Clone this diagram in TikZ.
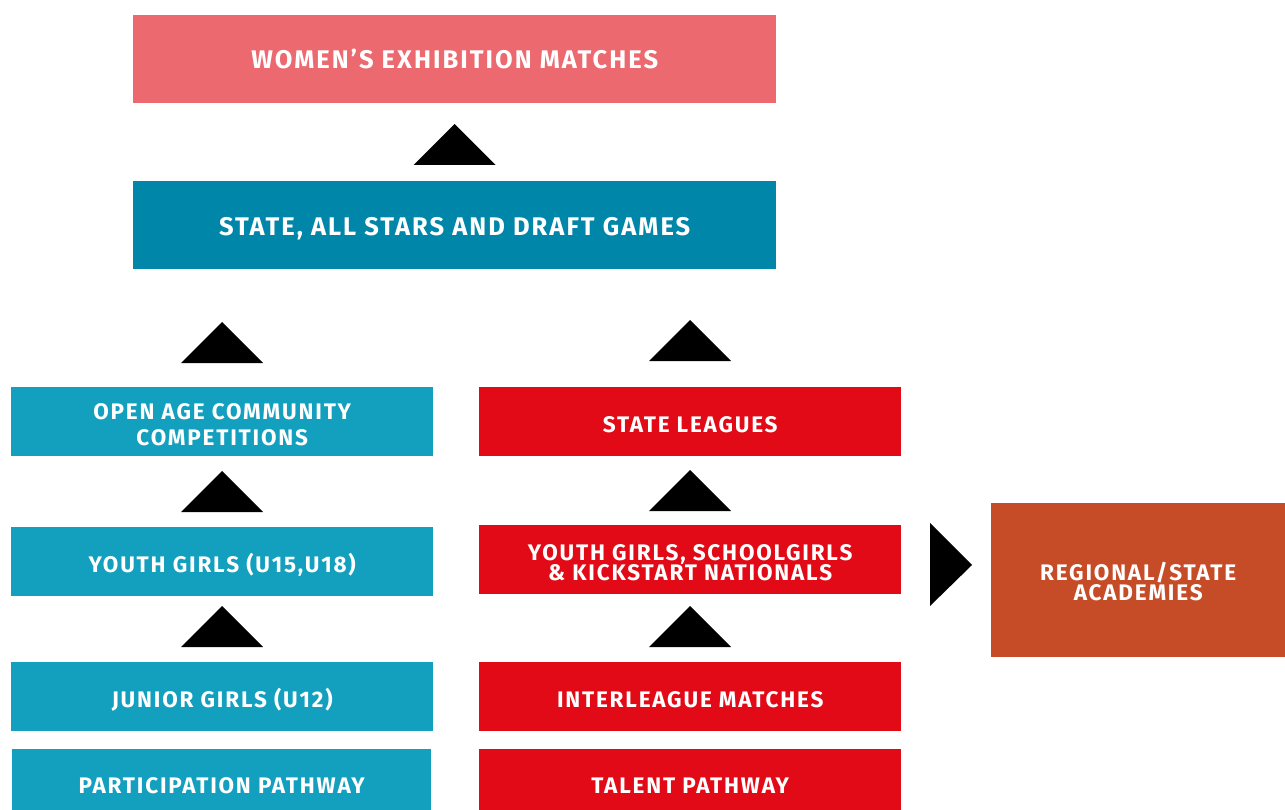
\documentclass[tikz,border=0pt]{standalone}
\usepackage{fontspec}
\setmainfont{Fira Sans}
\newfontfamily\boxfont[LetterSpace=8]{Fira Sans}
\usepackage{tikz}

\definecolor{exhib}{HTML}{EC6A6F}
\definecolor{stars}{HTML}{0086A8}
\definecolor{partic}{HTML}{139FBE}
\definecolor{talent}{HTML}{E20A16}
\definecolor{academy}{HTML}{C64B27}

\tikzset{
  level/.style={anchor=north west, rectangle, inner sep=0pt,
    minimum width=422pt, minimum height=69pt},
  wide/.style={level, minimum width=643pt, minimum height=88pt},
  captext/.style={text=white, align=center, inner sep=0pt,
    font=\boxfont\bfseries\fontsize{22.5}{21}\selectfont},
  widetext/.style={captext, font=\boxfont\bfseries\fontsize{25.5}{26}\selectfont},
  caption/.style={label={[captext, yshift=-3pt]center:#1}},
}

% up triangle with its base centred on the given point
\newcommand{\uptri}[1]{\fill #1 ++(-41,0) -- ++(82,0) -- ++(-41,-41) -- cycle;}

\begin{document}
\begin{tikzpicture}[x=1pt, y=-1pt]

\useasboundingbox (0,0) rectangle (1285,810);

%\draw (0,0) grid (1285,810);

\node [wide, fill=exhib, label={[widetext]center:WOMEN’S EXHIBITION MATCHES}] (exhibition) at (133,15) {};
\node [wide, fill=stars, label={[widetext, yshift=-4pt]center:{STATE, ALL STARS AND DRAFT GAMES}}] (allstars) at (133,181) {};

\node [level, fill=partic, caption={OPEN AGE COMMUNITY\\[5pt]COMPETITIONS}] (openage) at (11,387) {};
\node [level, fill=partic, caption={YOUTH GIRLS (U15,U18)}] (youth) at (11,527) {};
\node [level, fill=partic, caption={JUNIOR GIRLS (U12)}] (junior) at (11,662) {};
\node [level, fill=partic, minimum width=419pt, minimum height=61pt,
  label={[captext, yshift=-6pt]center:PARTICIPATION PATHWAY}] (participation) at (12,749) {};

\node [level, fill=talent, caption={STATE LEAGUES}] (leagues) at (479,387) {};
\node [level, fill=talent, caption={YOUTH GIRLS, SCHOOLGIRLS\\[-1pt]\& KICKSTART NATIONALS}] (schoolgirls) at (479,525) {};
\node [level, fill=talent, caption={INTERLEAGUE MATCHES}] (interleague) at (479,662) {};
\node [level, fill=talent, minimum height=61pt,
  label={[captext, yshift=-6pt]center:TALENT PATHWAY}] (talentpath) at (479,749) {};

\node [level, fill=academy, minimum width=294pt, minimum height=154pt,
  label={[captext, yshift=-1pt]center:REGIONAL/STATE\\[-1pt]ACADEMIES}] (academies) at (991,503) {};

\uptri{(exhibition.south |- 0,165)}
\uptri{(openage.north |- 0,363)}
\uptri{(openage.north |- 0,512)}
\uptri{(openage.north |- 0,647)}
\uptri{(leagues.north |- 0,361)}
\uptri{(leagues.north |- 0,511)}
\uptri{(leagues.north |- 0,647)}
\fill (930,523) -- (972,565) -- (930,606) -- cycle;

\end{tikzpicture}
\end{document}
